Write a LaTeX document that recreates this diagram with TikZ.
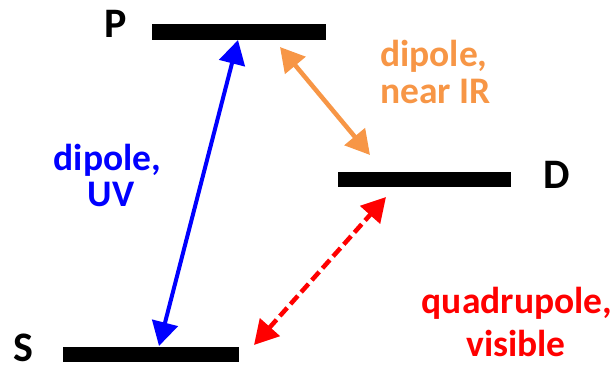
\documentclass[tikz,border=0pt]{standalone}
\usepackage{fontspec}
\setmainfont{Carlito}
\usetikzlibrary{arrows.meta}
\definecolor{myblue}{RGB}{0,0,255}
\definecolor{myorange}{RGB}{247,150,70}
\definecolor{myred}{RGB}{255,0,0}
\begin{document}
\begin{tikzpicture}[x=1pt,y=-1pt,
  level/.style={fill=black,draw=none,inner sep=0pt,minimum height=16pt},
  lvllabel/.style={font=\fontsize{42}{42}\selectfont\bfseries,inner sep=0pt,anchor=base},
  lbl/.style={font=\fontsize{37.5}{37.5}\selectfont\bfseries,inner sep=0pt,anchor=base},
  lblw/.style={lbl,anchor=base west},
  dbl/.style={line width=4.5pt,{Triangle[length=24pt,width=26pt]}-{Triangle[length=24pt,width=26pt]}}]
\useasboundingbox (0,0) rectangle (616,365);
% levels
\node[level,minimum width=174pt] (P) at (239,32) {};
\node[level,minimum width=173pt,minimum height=15pt] (D) at (424.5,179.5) {};
\node[level,minimum width=176pt,minimum height=15pt] (S) at (151,354.5) {};
% level labels
\node[lvllabel] (Pl) at (116,37) {P};
\node[lvllabel] (Dl) at (557,188) {D};
\node[lvllabel] (Sl) at (23,361) {S};
% arrow end points
\coordinate (b1) at (159,346);
\coordinate (b2) at (238,40);
\coordinate (o1) at (280,47);
\coordinate (o2) at (370,155);
\coordinate (r1) at (254,345);
\coordinate (r2) at (386,197);
% arrows
\draw[dbl,myblue,line width=4pt] (b1) -- (b2);
\draw[dbl,myorange] (o1) -- (o2);
\draw[dbl,myred,dash pattern=on 11pt off 5pt] (r1) -- (r2);
% transition labels
\node[lbl,myblue] (ba) at (107.5,170) {dipole,};
\node[lbl,myblue] (bb) at (111,206) {UV};
\node[lblw,myorange] (oa) at (380,66) {dipole,};
\node[lblw,myorange] (ob) at (380,103) {near IR};
\node[lbl,myred] (ra) at (517,313) {quadrupole,};
\node[lbl,myred] (rb) at (516,356) {visible};
\end{tikzpicture}
\end{document}
